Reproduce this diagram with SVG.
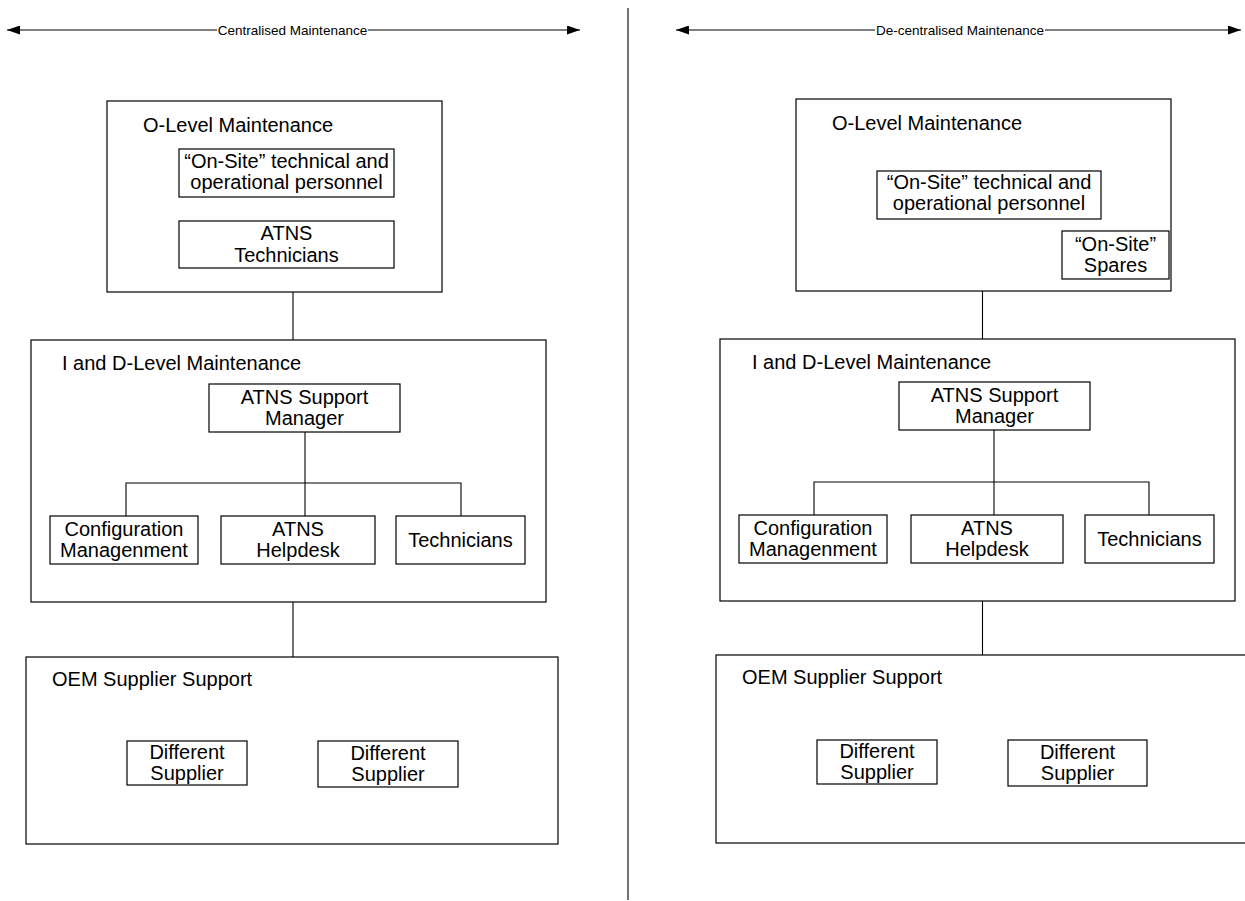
<svg xmlns="http://www.w3.org/2000/svg" width="1245" height="901" viewBox="0 0 1245 901">
<defs>
<marker id="ah" viewBox="0 0 13 9" refX="13" refY="4.5" markerWidth="13" markerHeight="9" markerUnits="userSpaceOnUse" orient="auto-start-reverse">
<path d="M0,0 L13,4.5 L0,9 Z" fill="#000"/>
</marker>
<style>
rect{fill:#fff;stroke:#000;stroke-width:1.2}
line,polyline{stroke:#000;stroke-width:1.1;fill:none}
text{font-family:"Liberation Sans",Arial,sans-serif;font-size:20px;fill:#000}
.c{text-anchor:middle}
.lbl{font-size:13.5px;text-anchor:middle}
</style>
</defs>
<rect x="0" y="0" width="1245" height="901" style="fill:#fff;stroke:none"/>

<g id="connectors">
<line x1="628" y1="8" x2="628" y2="900"/>
<line x1="7" y1="30" x2="580" y2="30" marker-start="url(#ah)" marker-end="url(#ah)"/>
<line x1="676" y1="30" x2="1241" y2="30" marker-start="url(#ah)" marker-end="url(#ah)"/>
<line x1="293" y1="292" x2="293" y2="340"/>
<line x1="305" y1="432" x2="305" y2="516"/>
<polyline points="126,516 126,483 461,483 461,516"/>
<line x1="293" y1="602" x2="293" y2="657"/>
<line x1="982.5" y1="291" x2="982.5" y2="339"/>
<line x1="994" y1="430" x2="994" y2="515"/>
<polyline points="814,515 814,482 1149,482 1149,515"/>
<line x1="982.5" y1="601" x2="982.5" y2="655"/>
</g>

<g id="label-centralised">
<rect x="217" y="22" width="151" height="16" style="fill:#fff;stroke:none"/>
<text class="lbl" x="292.5" y="35">Centralised Maintenance</text>
</g>
<g id="label-decentralised">
<rect x="875" y="22" width="170" height="16" style="fill:#fff;stroke:none"/>
<text class="lbl" x="960" y="35">De-centralised Maintenance</text>
</g>

<!-- LEFT -->
<g id="L-olevel">
<rect x="107" y="101" width="335" height="191"/>
<text x="143" y="132">O-Level Maintenance</text>
</g>
<g id="L-onsite">
<rect x="179" y="149" width="215" height="48"/>
<text class="c" x="286.5" y="168">“On-Site” technical and</text>
<text class="c" x="286.5" y="189">operational personnel</text>
</g>
<g id="L-atnstech">
<rect x="179" y="221" width="215" height="47"/>
<text class="c" x="286.5" y="240">ATNS</text>
<text class="c" x="286.5" y="262">Technicians</text>
</g>
<g id="L-ilevel">
<rect x="31" y="340" width="515" height="262" style="fill:none"/>
<text x="62" y="370">I and D-Level Maintenance</text>
</g>
<g id="L-manager">
<rect x="209" y="384" width="191" height="48"/>
<text class="c" x="304.5" y="404">ATNS Support</text>
<text class="c" x="304.5" y="425">Manager</text>
</g>
<g id="L-config">
<rect x="50" y="516" width="148" height="48"/>
<text class="c" x="124" y="536">Configuration</text>
<text class="c" x="124" y="557">Managenment</text>
</g>
<g id="L-helpdesk">
<rect x="221" y="516" width="154" height="48"/>
<text class="c" x="298" y="536">ATNS</text>
<text class="c" x="298" y="557">Helpdesk</text>
</g>
<g id="L-technicians">
<rect x="396" y="516" width="129" height="48"/>
<text class="c" x="460.5" y="547">Technicians</text>
</g>
<g id="L-oem">
<rect x="26" y="657" width="532" height="187"/>
<text x="52" y="686">OEM Supplier Support</text>
</g>
<g id="L-supplier1">
<rect x="127" y="741" width="120" height="44"/>
<text class="c" x="187" y="759">Different</text>
<text class="c" x="187" y="780">Supplier</text>
</g>
<g id="L-supplier2">
<rect x="318" y="741" width="140" height="46"/>
<text class="c" x="388" y="760">Different</text>
<text class="c" x="388" y="781">Supplier</text>
</g>

<!-- RIGHT -->
<g id="R-olevel">
<rect x="796" y="99" width="375" height="192"/>
<text x="832" y="130">O-Level Maintenance</text>
</g>
<g id="R-onsite">
<rect x="877" y="171" width="224" height="48"/>
<text class="c" x="989" y="189">“On-Site” technical and</text>
<text class="c" x="989" y="210">operational personnel</text>
</g>
<g id="R-spares">
<rect x="1062" y="231" width="107" height="48"/>
<text class="c" x="1115.5" y="251">“On-Site”</text>
<text class="c" x="1115.5" y="272">Spares</text>
</g>
<g id="R-ilevel">
<rect x="720" y="339" width="515" height="262" style="fill:none"/>
<text x="752" y="369">I and D-Level Maintenance</text>
</g>
<g id="R-manager">
<rect x="899" y="382" width="191" height="48"/>
<text class="c" x="994.5" y="402">ATNS Support</text>
<text class="c" x="994.5" y="423">Manager</text>
</g>
<g id="R-config">
<rect x="739" y="515" width="148" height="48"/>
<text class="c" x="813" y="535">Configuration</text>
<text class="c" x="813" y="556">Managenment</text>
</g>
<g id="R-helpdesk">
<rect x="911" y="515" width="152" height="48"/>
<text class="c" x="987" y="535">ATNS</text>
<text class="c" x="987" y="556">Helpdesk</text>
</g>
<g id="R-technicians">
<rect x="1085" y="515" width="129" height="48"/>
<text class="c" x="1149.5" y="546">Technicians</text>
</g>
<g id="R-oem">
<rect x="716" y="655" width="540" height="188"/>
<text x="742" y="684">OEM Supplier Support</text>
</g>
<g id="R-supplier1">
<rect x="817" y="740" width="120" height="44"/>
<text class="c" x="877" y="758">Different</text>
<text class="c" x="877" y="779">Supplier</text>
</g>
<g id="R-supplier2">
<rect x="1008" y="740" width="139" height="46"/>
<text class="c" x="1077.5" y="759">Different</text>
<text class="c" x="1077.5" y="780">Supplier</text>
</g>
</svg>
